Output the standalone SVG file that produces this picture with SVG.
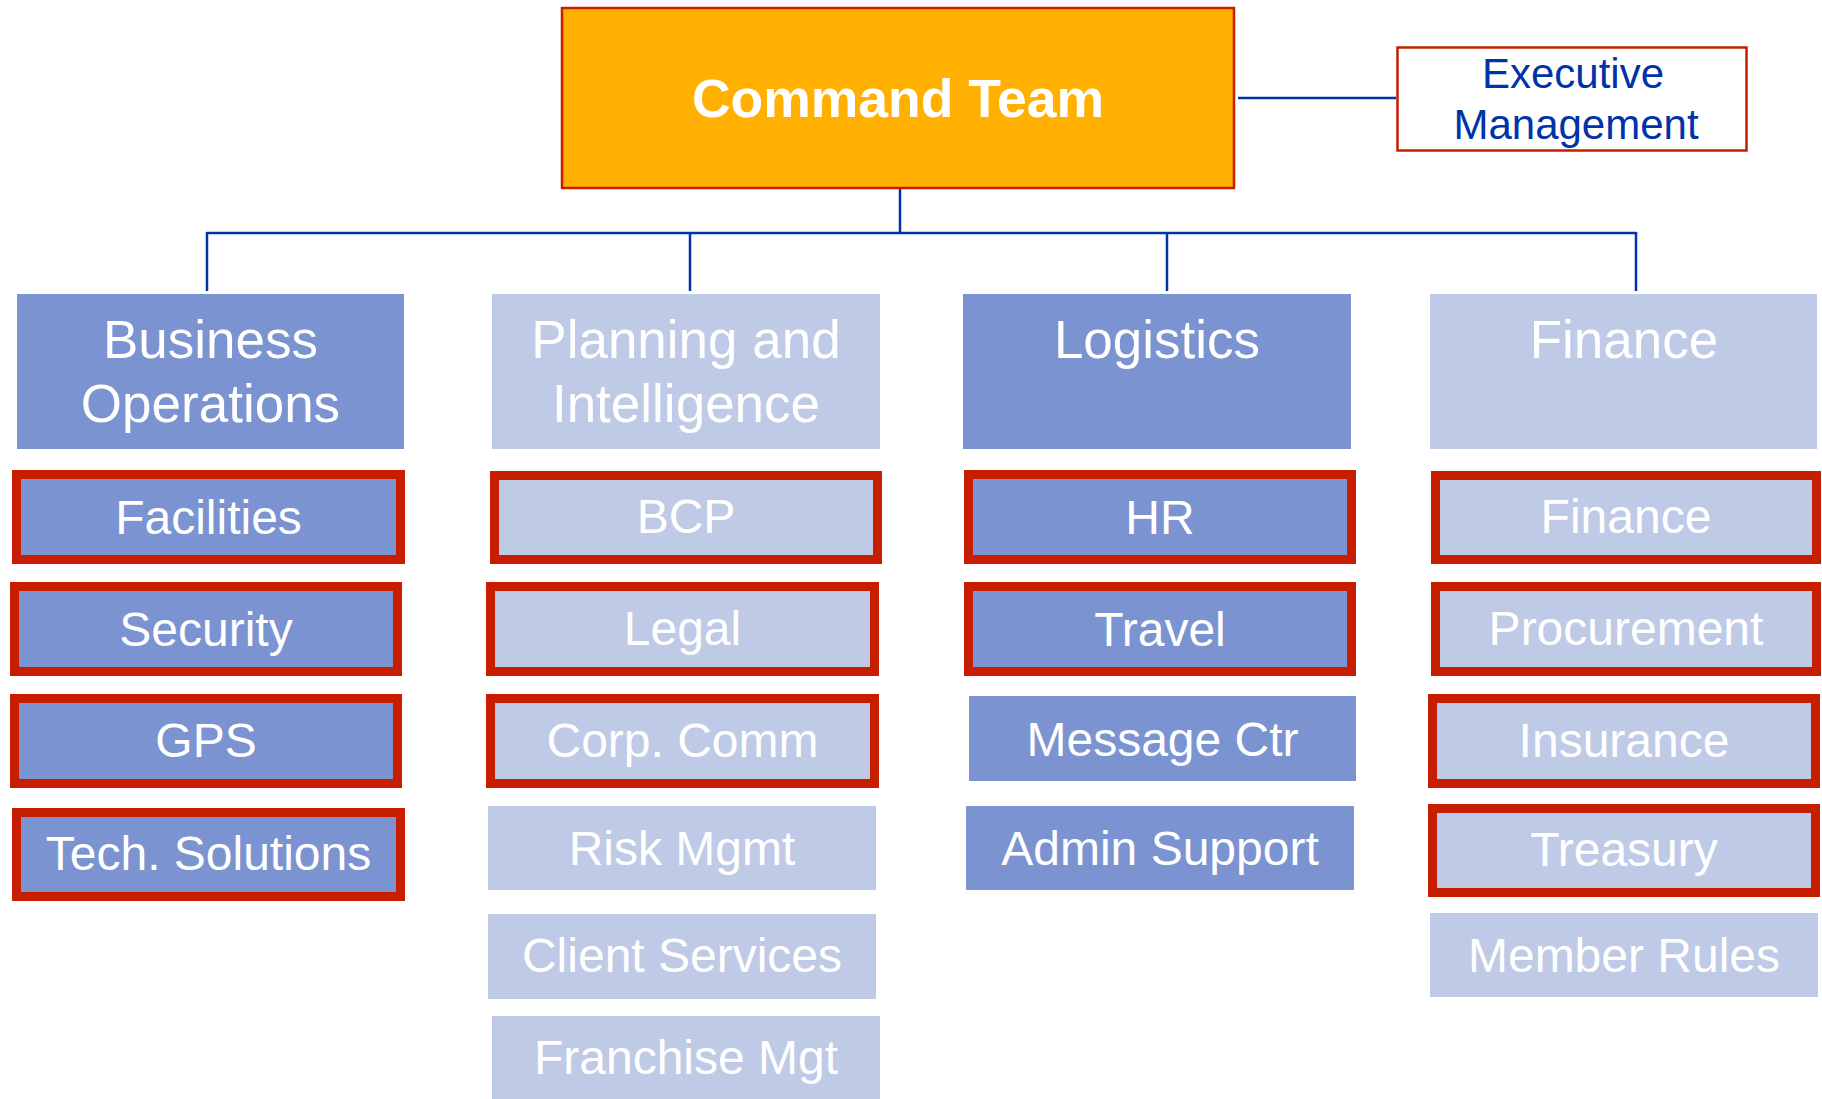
<svg xmlns="http://www.w3.org/2000/svg" width="1822" height="1099" viewBox="0 0 1822 1099">
<style>
text{font-family:"Liberation Sans",Arial,sans-serif;fill:#fff;text-anchor:middle}
.dk{fill:#7B93D1}
.lt{fill:#BFCAE7}
.rb{stroke:#C81E00;stroke-width:9}
.hd{font-size:53px}
.ch{font-size:48px}
.con{stroke:#0033AA;stroke-width:2.5;fill:none}
</style>
<rect width="1822" height="1099" fill="#fff"/>
<g id="connectors">
<line class="con" x1="900" y1="189" x2="900" y2="233"/>
<line class="con" x1="207" y1="233" x2="1636" y2="233"/>
<line class="con" x1="207" y1="232" x2="207" y2="291"/>
<line class="con" x1="690" y1="232" x2="690" y2="291"/>
<line class="con" x1="1167" y1="232" x2="1167" y2="291"/>
<line class="con" x1="1636" y1="232" x2="1636" y2="291"/>
<line class="con" x1="1238" y1="98" x2="1396" y2="98"/>
</g>
<g id="command">
<rect x="562" y="8" width="672" height="180" fill="#FFB000" stroke="#C81E00" stroke-width="2.5"/>
<text x="898" y="117" font-size="53.5" font-weight="bold">Command Team</text>
</g>
<g id="exec">
<rect x="1397.5" y="47.5" width="349" height="103" fill="#fff" stroke="#C81E00" stroke-width="2.5"/>
<text x="1573" y="88" font-size="42" style="fill:#0033AA">Executive</text>
<text x="1576" y="139" font-size="42" style="fill:#0033AA">Management</text>
</g>
<g id="business-ops">
<rect class="dk" x="17" y="294" width="387" height="155"/>
<text class="hd" x="210.5" y="358">Business</text>
<text class="hd" x="210.5" y="422">Operations</text>
</g>
<g id="planning">
<rect class="lt" x="492" y="294" width="388" height="155"/>
<text class="hd" x="686" y="358">Planning and</text>
<text class="hd" x="686" y="422">Intelligence</text>
</g>
<g id="logistics">
<rect class="dk" x="963" y="294" width="388" height="155"/>
<text class="hd" x="1157" y="358">Logistics</text>
</g>
<g id="finance-head">
<rect class="lt" x="1430" y="294" width="387" height="155"/>
<text class="hd" x="1624" y="358">Finance</text>
</g>
<g id="facilities"><rect class="dk rb" x="16.5" y="474.5" width="384" height="85"/><text class="ch" x="208.5" y="534">Facilities</text></g>
<g id="security"><rect class="dk rb" x="14.5" y="586.5" width="383" height="85"/><text class="ch" x="206" y="646">Security</text></g>
<g id="gps"><rect class="dk rb" x="14.5" y="698.5" width="383" height="85"/><text class="ch" x="206" y="757">GPS</text></g>
<g id="tech"><rect class="dk rb" x="16.5" y="812.5" width="384" height="84"/><text class="ch" x="208.5" y="870">Tech. Solutions</text></g>
<g id="bcp"><rect class="lt rb" x="494.5" y="475.5" width="383" height="84"/><text class="ch" x="686" y="533">BCP</text></g>
<g id="legal"><rect class="lt rb" x="490.5" y="586.5" width="384" height="85"/><text class="ch" x="682.5" y="645">Legal</text></g>
<g id="corp-comm"><rect class="lt rb" x="490.5" y="698.5" width="384" height="85"/><text class="ch" x="682.5" y="757">Corp. Comm</text></g>
<g id="risk"><rect class="lt" x="488" y="806" width="388" height="84"/><text class="ch" x="682" y="865">Risk Mgmt</text></g>
<g id="client"><rect class="lt" x="488" y="914" width="388" height="85"/><text class="ch" x="682" y="972">Client Services</text></g>
<g id="franchise"><rect class="lt" x="492" y="1016" width="388" height="90"/><text class="ch" x="686" y="1074">Franchise Mgt</text></g>
<g id="hr"><rect class="dk rb" x="968.5" y="474.5" width="383" height="85"/><text class="ch" x="1160" y="534">HR</text></g>
<g id="travel"><rect class="dk rb" x="968.5" y="586.5" width="383" height="85"/><text class="ch" x="1160" y="646">Travel</text></g>
<g id="message"><rect class="dk" x="969" y="696" width="387" height="85"/><text class="ch" x="1162.5" y="756">Message Ctr</text></g>
<g id="admin"><rect class="dk" x="966" y="806" width="388" height="84"/><text class="ch" x="1160" y="865">Admin Support</text></g>
<g id="finance"><rect class="lt rb" x="1435.5" y="475.5" width="381" height="84"/><text class="ch" x="1626" y="533">Finance</text></g>
<g id="procurement"><rect class="lt rb" x="1435.5" y="586.5" width="381" height="85"/><text class="ch" x="1626" y="645">Procurement</text></g>
<g id="insurance"><rect class="lt rb" x="1432.5" y="698.5" width="383" height="85"/><text class="ch" x="1624" y="757">Insurance</text></g>
<g id="treasury"><rect class="lt rb" x="1432.5" y="808.5" width="383" height="84"/><text class="ch" x="1624" y="866">Treasury</text></g>
<g id="member"><rect class="lt" x="1430" y="913" width="388" height="84"/><text class="ch" x="1624" y="972">Member Rules</text></g>
</svg>
